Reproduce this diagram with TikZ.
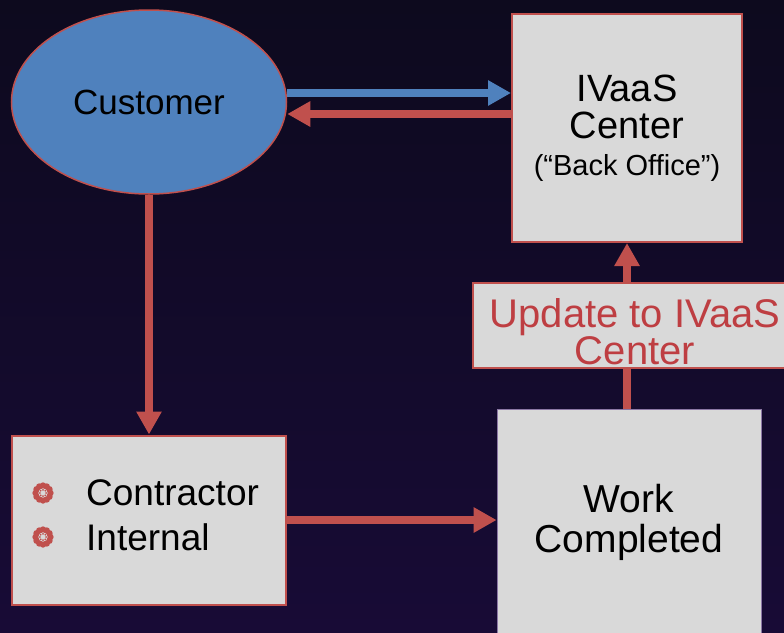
\documentclass[tikz,border=0pt]{standalone}
\usepackage{fontspec}
\setmainfont{Liberation Sans}
\usetikzlibrary{arrows.meta,shapes.geometric}

\definecolor{boxred}{RGB}{192,80,77}
\definecolor{updred}{RGB}{190,62,66}
\definecolor{custblue}{RGB}{79,129,189}
\definecolor{boxgray}{RGB}{217,217,217}
\definecolor{bgdark}{RGB}{13,10,30}
\definecolor{bgpurple}{RGB}{24,11,54}
\definecolor{workline}{RGB}{140,120,165}

\tikzset{
	rosette/.pic={
		\foreach \a in {0,30,...,330}
			\fill[boxred] (\a:7.5) circle (3.2);
		\fill[boxgray] (0,0) circle (5);
		\draw[boxred,line width=1.4pt] (0,0) circle (5.6);
		\foreach \a in {0,45,...,315}
			\fill[boxred] (\a:3.2) circle (1);
	}
}

\begin{document}
\begin{tikzpicture}[x=1pt,y=-1pt,
	box/.style={draw=boxred,line width=2pt,fill=boxgray,inner sep=0pt},
	flow/.style={boxred,line width=7.5pt,-{Triangle[length=23pt,width=24pt]}},
	]

	\useasboundingbox (0,0) rectangle (784,632);
	\clip (0,0) rectangle (784,632);
	\shade[top color=bgdark,bottom color=bgpurple] (0,0) rectangle (784,632);

	\node[ellipse,draw=boxred,line width=1.5pt,fill=custblue,inner sep=0pt,
		minimum width=275,minimum height=184,font=\fontsize{35}{42}\selectfont] (cust) at (149,102) {Customer};
	\node[box,minimum width=230,minimum height=228,align=center,
		font=\fontsize{38}{37}\selectfont] (ivaas) at (627,128) {IVaaS\\Center\\{\fontsize{29}{37}\selectfont(“Back Office”)}};
	\node[box,minimum width=274,minimum height=169] (contr) at (149,520) {};
	\node[draw=workline,line width=0.8pt,fill=boxgray,inner sep=0pt,minimum width=264,minimum height=226,
		align=center,font=\fontsize{39}{40}\selectfont] (work) at (629,522) {Work\\Completed};

	\node[anchor=base west,inner sep=0pt,font=\fontsize{37}{45}\selectfont] (ctr) at (86,505) {Contractor};
	\node[anchor=base west,inner sep=0pt,font=\fontsize{37}{45}\selectfont] (intl) at (86,550) {Internal};
	\pic at (43,493) {rosette};
	\pic at (43,537) {rosette};

	\coordinate (bl) at ([yshift=9pt]cust.east);
	\coordinate (rl) at ([yshift=-12pt]cust.east);
	\draw[flow,custblue] (bl) -- (bl -| ivaas.west);
	\draw[flow] (rl -| ivaas.west) -- (rl);
	\draw[flow] (cust.south) -- (contr.north);
	\draw[flow] (contr.east) -- (contr.east -| work.west);
	\draw[flow] (ivaas.south |- work.north) -- (ivaas.south);

	\node[box,minimum width=324,minimum height=85] (upd) at (635,325.5) {};
	\node[text=updred,inner sep=0pt,align=center,font=\fontsize{40}{37}\selectfont] (updtxt) at (635,332) {Update to IVaaS\\Center};

\end{tikzpicture}
\end{document}
